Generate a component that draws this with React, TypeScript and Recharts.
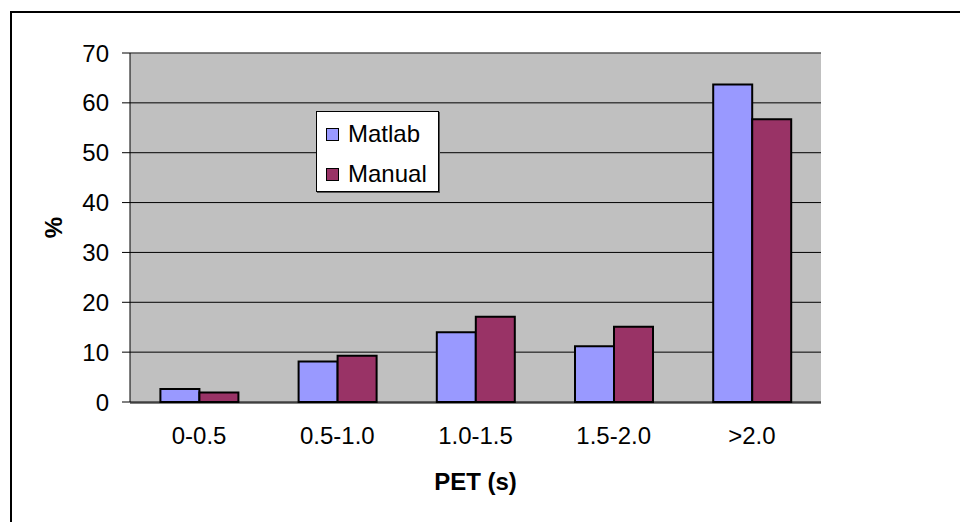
import React from "react";
import {
  BarChart,
  Bar,
  XAxis,
  YAxis,
  CartesianGrid,
  Legend,
} from "recharts";

const categories = ["0-0.5", "0.5-1.0", "1.0-1.5", "1.5-2.0", ">2.0"];
const matlab = [2.6, 8.1, 14, 11.2, 63.7];
const manual = [1.9, 9.3, 17.1, 15.1, 56.7];
const yTicks = [0, 10, 20, 30, 40, 50, 60, 70];
const boundaryTicks = [0, 1, 2, 3, 4, 5];

const data = categories.map((range, i) => ({
  range,
  Matlab: matlab[i],
  Manual: manual[i],
}));

const FONT = "Arial, 'Liberation Sans', sans-serif";
const MATLAB_COLOR = "#9999FF";
const MANUAL_COLOR = "#993366";

const LegendBox = () => (
  <div
    style={{
      background: "#fff",
      border: "1px solid #000",
      boxShadow: "1px 1px 0 #555",
      width: 121,
      height: 79,
      fontFamily: FONT,
      fontSize: 24,
      boxSizing: "content-box",
    }}
  >
    {[
      { name: "Matlab", color: MATLAB_COLOR },
      { name: "Manual", color: MANUAL_COLOR },
    ].map((item, i) => (
      <div
        key={item.name}
        style={{
          display: "flex",
          alignItems: "center",
          height: 40,
          marginTop: i === 0 ? 2 : 0,
          paddingLeft: 9,
        }}
      >
        <span
          style={{
            width: 11,
            height: 11,
            background: item.color,
            border: "1.5px solid #000",
            marginRight: 9,
            display: "inline-block",
          }}
        ></span>
        <span>{item.name}</span>
      </div>
    ))}
  </div>
);

const YTitle = (props: any) => {
  const vb = props.viewBox || {};
  const x = vb.x - 7;
  const y = vb.y + vb.height / 2;
  return (
    <text
      x={x}
      y={y}
      transform={`rotate(-90, ${x}, ${y})`}
      textAnchor="middle"
      dominantBaseline="central"
      fontFamily={FONT}
      fontSize={24}
      fontWeight="bold"
      fill="#000"
    >
      %
    </text>
  );
};

export default function App() {
  return (
    <div
      style={{
        position: "fixed",
        left: 0,
        top: 0,
        width: 960,
        height: 522,
        overflow: "hidden",
        background: "#fff",
      }}
    >
      <div
        style={{
          position: "absolute",
          left: 10,
          top: 11,
          width: 1000,
          height: 600,
          borderLeft: "2px solid #000",
          borderTop: "2px solid #000",
        }}
      />
      <BarChart
        width={960}
        height={522}
        data={data}
        margin={{ top: 52, right: 139, left: 60, bottom: 118 }}
        barCategoryGap="22%"
        barGap={0}
        style={{ fontFamily: FONT }}
      >
        <CartesianGrid
          vertical={false}
          fill="#C0C0C0"
          stroke="#000"
          strokeOpacity={1}
          fillOpacity={1}
        />
        <XAxis
          xAxisId="bounds"
          type="number"
          domain={[0, 5]}
          ticks={boundaryTicks}
          allowDataOverflow
          height={1}
          tick={false}
          tickSize={8}
          tickLine={{ stroke: "#000" }}
          axisLine={{ stroke: "#000" }}
        />
        <XAxis
          dataKey="range"
          height={1}
          axisLine={false}
          tickLine={false}
          tickSize={0}
          tickMargin={25}
          tick={{ fill: "#000", fontSize: 24, fontFamily: FONT }}
          label={{
            value: "PET (s)",
            position: "bottom",
            offset: 70,
            fill: "#000",
            fontSize: 24,
            fontWeight: "bold",
            fontFamily: FONT,
          }}
        />
        <XAxis
          xAxisId="top"
          dataKey="range"
          orientation="top"
          height={1}
          tick={false}
          tickLine={false}
          axisLine={{ stroke: "#808080" }}
        />
        <YAxis
          width={70}
          domain={[0, 70]}
          ticks={yTicks}
          interval={0}
          tickSize={8}
          tickMargin={13}
          tick={{ fill: "#000", fontSize: 24, fontFamily: FONT }}
          tickLine={{ stroke: "#000" }}
          axisLine={{ stroke: "#000" }}
          label={<YTitle />}
        />
        <YAxis
          yAxisId="right"
          orientation="right"
          width={0}
          domain={[0, 70]}
          tick={false}
          tickLine={false}
          axisLine={{ stroke: "#808080", strokeWidth: 2 }}
        />
        <Legend
          content={<LegendBox />}
          layout="horizontal"
          verticalAlign="middle"
          align="center"
          wrapperStyle={{ left: 316, top: 111, width: 123 }}
        />
        <Bar
          dataKey="Matlab"
          fill={MATLAB_COLOR}
          stroke="#000"
          strokeWidth={2}
          isAnimationActive={false}
        />
        <Bar
          dataKey="Manual"
          fill={MANUAL_COLOR}
          stroke="#000"
          strokeWidth={2}
          isAnimationActive={false}
        />
      </BarChart>
    </div>
  );
}
